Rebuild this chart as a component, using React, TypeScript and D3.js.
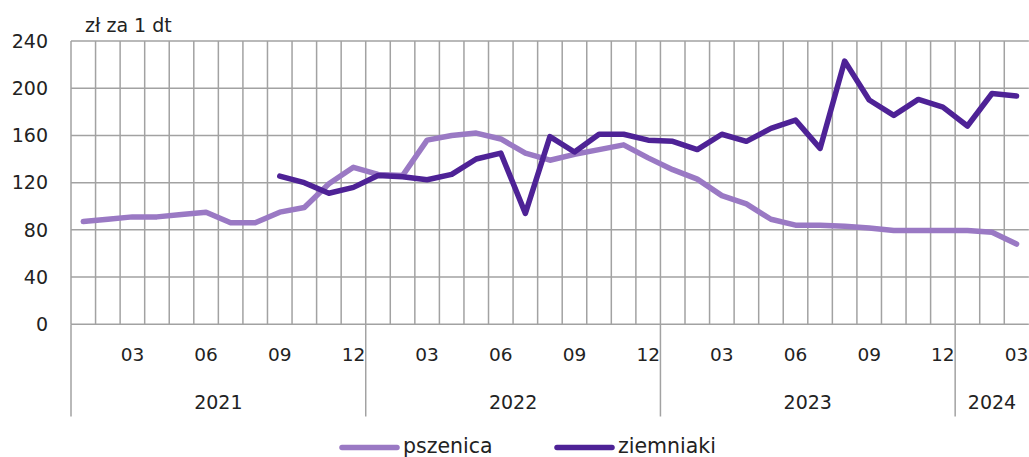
import React from "react";
import * as d3 from "d3";

const months: string[] = [];
const years = [2021, 2022, 2023, 2024];
const yearMonthCounts = [12, 12, 12, 3];
years.forEach((y, i) => {
  for (let m = 1; m <= yearMonthCounts[i]; m++) months.push(`${y}-${String(m).padStart(2, "0")}`);
});

const pszenica: (number | null)[] = [
  87, 89, 91, 91, 93, 95, 86, 86, 95, 99, 119, 133,
  127, 126, 156, 160, 162, 157, 145, 139, 144, 148, 152, 141,
  131, 123, 109, 102, 89, 84, 84, 83, 81.5, 79.5, 79.5, 79.5,
  79.5, 78, 68,
];

const ziemniaki: (number | null)[] = [
  null, null, null, null, null, null, null, null, 125.5, 120, 111, 116,
  126, 125, 122.5, 127, 140, 145, 94, 159, 146, 161, 161, 156,
  155, 148, 161, 155, 166, 173, 149, 223, 190, 177, 190.5, 184,
  168, 195.5, 193.5,
];

const yTicks = [0, 40, 80, 120, 160, 200, 240];
const monthTickLabels = ["03", "06", "09", "12"];
const seriesNames = ["pszenica", "ziemniaki"];
const seriesColors = ["#9a79c4", "#4e2296"];

const W = 1029;
const H = 457;
const M = { left: 71, top: 41 };
const FONT = "'DejaVu Sans', sans-serif";

export default function App() {
  const plotRight = 71 + 39 * 24.56;
  const x = d3.scaleBand<string>().domain(months).range([M.left, plotRight]).padding(0);
  const y = d3.scaleLinear().domain([0, 240]).range([324.3, M.top]);
  const bw = x.bandwidth();
  const cx = (m: string) => (x(m) as number) + bw / 2;

  const line = d3
    .line<number | null>()
    .defined((d) => d !== null)
    .x((_, i) => cx(months[i]))
    .y((d) => y(d as number));

  const grid = "#a2a2a2";
  const y0 = y(0);
  const axisBottom = 416.5;

  const yearStarts: number[] = [];
  const yearCenters: { label: string; x: number }[] = [];
  let idx = 0;
  years.forEach((yr, i) => {
    const start = x(months[idx]) as number;
    const endIdx = idx + yearMonthCounts[i] - 1;
    const end = (x(months[endIdx]) as number) + bw;
    yearStarts.push(start);
    yearCenters.push({ label: String(yr), x: (start + Math.min(end, W)) / 2 });
    idx += yearMonthCounts[i];
  });

  const txt = "#222";

  return (
    <svg width={W} height={H} style={{ position: "absolute", left: 0, top: 0, background: "#fff" }} fontFamily={FONT}>
      {yTicks.map((t) => (
        <line key={"h" + t} x1={M.left} x2={plotRight} y1={y(t)} y2={y(t)} stroke={grid} strokeWidth={1.5} />
      ))}
      {months.map((m) => (
        <line key={"v" + m} x1={x(m) as number} x2={x(m) as number} y1={M.top} y2={y0} stroke={grid} strokeWidth={1.5} />
      ))}
      {yearStarts.map((xs, i) => (
        <line key={"ys" + i} x1={xs} x2={xs} y1={y0} y2={axisBottom} stroke={grid} strokeWidth={1.5} />
      ))}
      {yTicks.map((t) => (
        <text key={"yl" + t} x={48} y={y(t)} dy="0.36em" textAnchor="end" fontSize={19} fill={txt}>
          {t}
        </text>
      ))}
      <text x={85} y={32} fontSize={19} fill={txt}>zł za 1 dt</text>
      {months.map((m) => {
        const mm = m.slice(5);
        if (!monthTickLabels.includes(mm)) return null;
        return (
          <text key={"ml" + m} x={cx(m)} y={361} textAnchor="middle" fontSize={18.5} fill={txt}>
            {mm}
          </text>
        );
      })}
      {yearCenters.map((yc) => (
        <text key={"yc" + yc.label} x={yc.x} y={408.5} textAnchor="middle" fontSize={19} fill={txt}>
          {yc.label}
        </text>
      ))}
      <path d={line(pszenica) || ""} fill="none" stroke={seriesColors[0]} strokeWidth={5.5} strokeLinejoin="round" strokeLinecap="round" />
      <path d={line(ziemniaki) || ""} fill="none" stroke={seriesColors[1]} strokeWidth={5.5} strokeLinejoin="round" strokeLinecap="round" />
      {seriesNames.map((n, i) => {
        const lx = [342, 557][i];
        return (
          <g key={n}>
            <line x1={lx} x2={lx + 55} y1={447.5} y2={447.5} stroke={seriesColors[i]} strokeWidth={5.5} strokeLinecap="round" />
            <text x={lx + 61} y={453} fontSize={20.5} fill={txt}>{n}</text>
          </g>
        );
      })}
    </svg>
  );
}
